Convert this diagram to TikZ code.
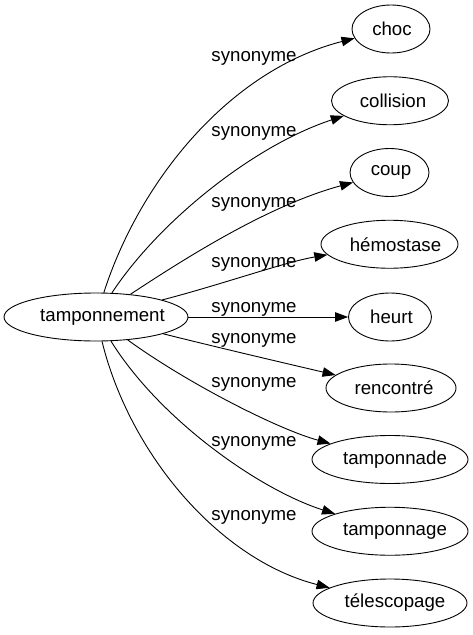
\documentclass[tikz,border=0pt]{standalone}
\usepackage{fontspec}
\setmainfont{Liberation Sans}
\usetikzlibrary{shapes.geometric,arrows.meta}
\newcommand\shtext[2]{\hspace*{#1}#2\hspace*{-#1}}
\begin{document}
\begin{tikzpicture}[x=1pt,y=-1pt,
  every node/.style={font=\fontsize{18.67}{22}\selectfont},
  word/.style={draw, ellipse, line width=0.9pt, inner sep=0pt, minimum height=48pt},
  lbl/.style={inner sep=0pt},
  rel/.style={draw, line width=0.9pt, -{Triangle[length=13pt,width=9.5pt]}}]
\useasboundingbox (0,0) rectangle (473,635);
\node[word, minimum width=184pt] (tam) at (96,317) {\shtext{6.5pt}{tamponnement}};
\node[word, minimum width=78pt]  (choc) at (391,29) {\shtext{1pt}{choc}};
\node[word, minimum width=117pt] (col) at (390,100.75) {\shtext{3pt}{collision}};
\node[word, minimum width=79pt]  (coup) at (389.5,172.5) {\shtext{1.5pt}{coup}};
\node[word, minimum width=137pt] (hem) at (389.5,244.25) {\shtext{6pt}{hémostase}};
\node[word, minimum width=83pt]  (heu) at (390,317) {\shtext{1.5pt}{heurt}};
\node[word, minimum width=130pt] (ren) at (391,388) {\shtext{3pt}{rencontré}};
\node[word, minimum width=156pt] (tde) at (390,459.5) {\shtext{5pt}{tamponnade}};
\node[word, minimum width=156pt] (tge) at (390,531.25) {\shtext{5pt}{tamponnage}};
\node[word, minimum width=154pt] (tel) at (390,603) {\shtext{5pt}{télescopage}};
\node[lbl] (l1) at (254,58) {synonyme};
\node[lbl] (l2) at (254,133) {synonyme};
\node[lbl] (l3) at (254,204) {synonyme};
\node[lbl] (l4) at (254,264) {synonyme};
\node[lbl] (l5) at (254,309) {synonyme};
\node[lbl] (l6) at (254,340) {synonyme};
\node[lbl] (l7) at (254,384) {synonyme};
\node[lbl] (l8) at (254,443) {synonyme};
\node[lbl] (l9) at (254,517) {synonyme};
\draw[rel] (tam) .. controls (140,180) and (230,70) .. (choc);
\draw[rel] (tam) .. controls (160,220) and (255,145) .. (col);
\draw[rel] (tam) .. controls (190,255) and (270,205) .. (coup);
\draw[rel] (tam) .. controls (220,285) and (285,262) .. (hem);
\draw[rel] (tam) -- (heu);
\draw[rel] (tam) .. controls (220,348) and (280,362) .. (ren);
\draw[rel] (tam) .. controls (190,385) and (280,430) .. (tde);
\draw[rel] (tam) .. controls (160,420) and (260,490) .. (tge);
\draw[rel] (tam) .. controls (130,455) and (220,560) .. (tel);
\end{tikzpicture}
\end{document}
